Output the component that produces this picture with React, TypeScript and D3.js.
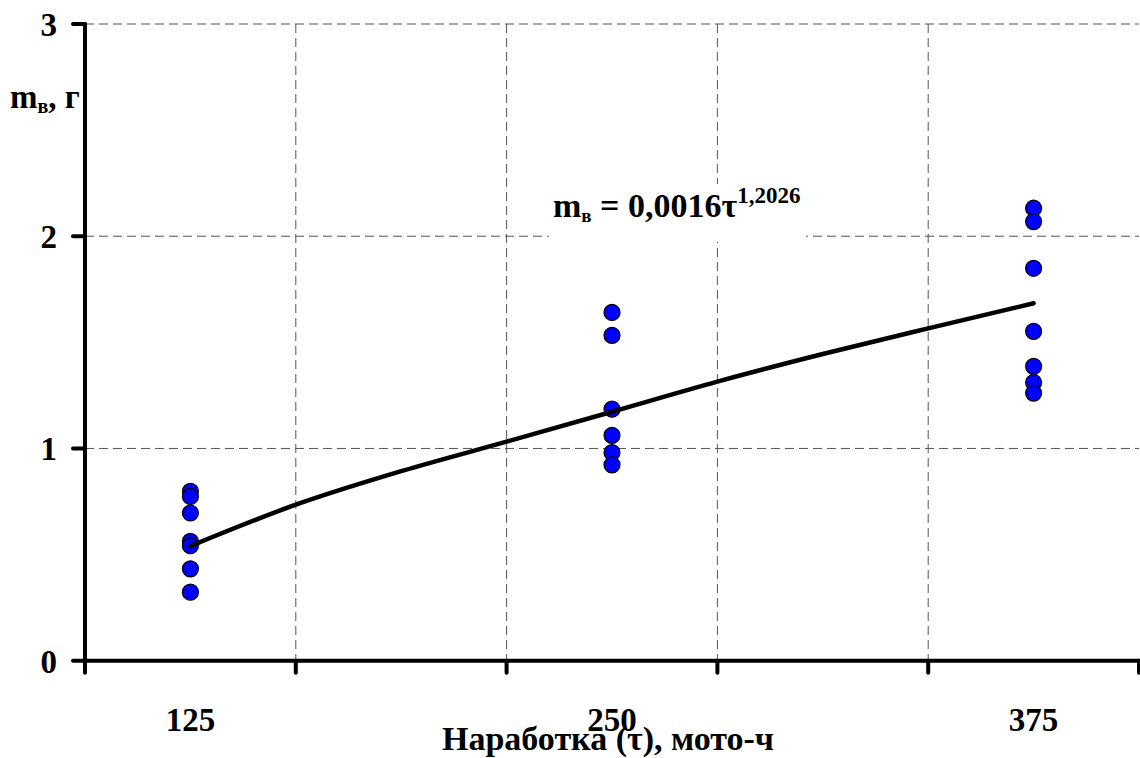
// Wear mass vs. operating time: scatter of measurements plus a fitted power trend.
import * as d3 from "d3";

const TAU_TICKS = [93.75, 156.25, 218.75, 281.25, 343.75, 406.25];
const TAU_LABELS = [125, 250, 375];
const Y_TICKS = [0, 1, 2, 3];

// measured mass, g, at each operating time
const MASS_125 = [0.798, 0.774, 0.696, 0.562, 0.542, 0.433, 0.323];
const MASS_250 = [1.641, 1.533, 1.185, 1.062, 0.981, 0.923];
const MASS_375 = [2.132, 2.069, 1.849, 1.552, 1.387, 1.311, 1.261];

// trend curve
const TREND_TAU = [125, 156.25, 187.5, 218.75, 250, 281.25, 312.5, 343.75, 375];
const TREND_MASS = [0.54, 0.735, 0.893, 1.032, 1.173, 1.315, 1.445, 1.566, 1.684];

const W = 1140;
const H = 758;
const FONT = '"Liberation Serif", Tinos, "Times New Roman", "DejaVu Serif", serif';
const txt = { fontFamily: FONT, fontWeight: 700 } as const;

export default function App() {
  const x = d3.scaleLinear().domain([93.75, 406.25]).range([85, 1139]);
  const y = d3.scaleLinear().domain([0, 3]).range([660.7, 24]);

  const points = [
    ...MASS_125.map((m) => ({ t: 125, m })),
    ...MASS_250.map((m) => ({ t: 250, m })),
    ...MASS_375.map((m) => ({ t: 375, m })),
  ];

  const trend = d3
    .line<number>()
    .x((_, i) => x(TREND_TAU[i]))
    .y((d) => y(d))
    .curve(d3.curveMonotoneX)(TREND_MASS);

  const grid = { stroke: "#555", strokeWidth: 1, strokeDasharray: "9 5" };

  return (
    <svg width={W} height={H} style={{ position: "absolute", left: 0, top: 0, background: "#fff" }}>
      {/* gridlines */}
      {Y_TICKS.filter((v) => v > 0).map((v) => (
        <line key={`gy${v}`} x1={x.range()[0]} x2={x.range()[1]} y1={y(v)} y2={y(v)} {...grid} />
      ))}
      {TAU_TICKS.slice(1, -1).map((t) => (
        <line key={`gx${t}`} x1={x(t)} x2={x(t)} y1={y(3)} y2={y(0)} {...grid} />
      ))}

      {/* equation box */}
      <rect x={549} y={184} width={257} height={58} fill="#fff" />
      <text x={553} y={217} fontSize={34} style={txt}>
        m<tspan fontSize={19} dy={5}>в</tspan>
        <tspan dy={-5}> = 0,0016τ</tspan>
        <tspan fontSize={23} dy={-14}>1,2026</tspan>
      </text>

      {/* axes */}
      <g stroke="#000" strokeWidth={4} strokeLinecap="round">
        <line x1={x.range()[0]} x2={x.range()[0]} y1={y(3)} y2={y(0) + 12} />
        <line x1={x.range()[0]} x2={x.range()[1]} y1={y(0)} y2={y(0)} strokeLinecap="butt" />
        {Y_TICKS.map((v) => (
          <line key={`ty${v}`} x1={x.range()[0] - 12} x2={x.range()[0]} y1={y(v)} y2={y(v)} />
        ))}
        {TAU_TICKS.slice(1).map((t) => (
          <line key={`tx${t}`} x1={x(t)} x2={x(t)} y1={y(0)} y2={y(0) + 12} />
        ))}
      </g>

      {Y_TICKS.map((v) => (
        <text key={`ly${v}`} x={57} y={y(v)} dy="0.36em" fontSize={33} textAnchor="end" style={txt}>
          {v}
        </text>
      ))}
      {TAU_LABELS.map((t) => (
        <text key={`lx${t}`} x={x(t)} y={731} fontSize={33} textAnchor="middle" style={txt}>
          {t}
        </text>
      ))}

      <text x={10} y={108} fontSize={33} style={txt}>
        m<tspan fontSize={20} dy={5}>в</tspan>
        <tspan dy={-5}>, г</tspan>
      </text>
      <text x={608} y={750} fontSize={34} textAnchor="middle" style={txt}>
        Наработка (τ), мото-ч
      </text>

      {/* measurements */}
      {points.map((p, i) => (
        <circle key={i} cx={x(p.t)} cy={y(p.m)} r={8} fill="#0000ff" stroke="#000" strokeWidth={1.2} />
      ))}

      {/* trend */}
      <path d={trend ?? ""} fill="none" stroke="#000" strokeWidth={4.5} strokeLinecap="round" />
    </svg>
  );
}
